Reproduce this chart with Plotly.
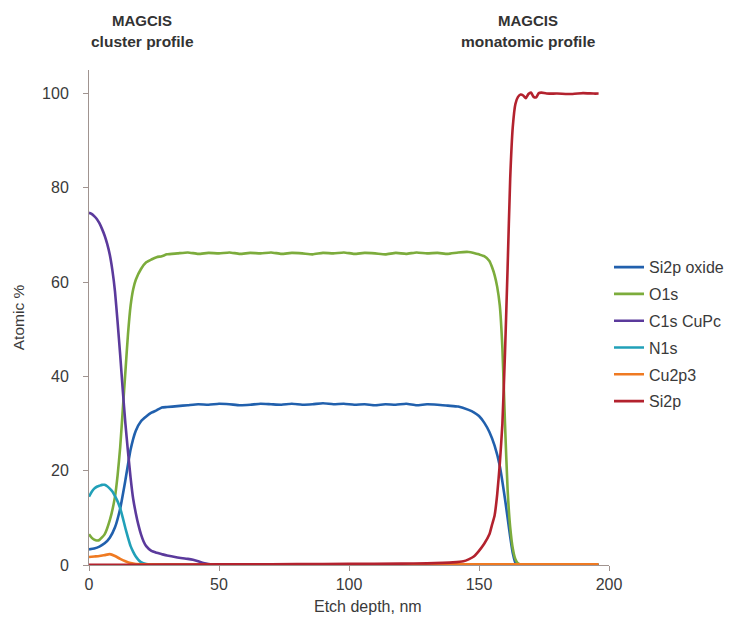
import plotly.graph_objects as go

# ---- data ----
sio2_x = [0, 2, 4, 6, 8, 10, 12, 14, 16, 18, 20, 22, 24, 26, 28,
          30, 34, 38, 42, 46, 50, 54, 58, 62, 66, 70, 74, 78, 82, 86, 90, 94, 98, 102, 106,
          110, 114, 118, 122, 126, 130, 134, 138, 142, 146, 148, 150, 152, 154, 156, 158,
          160, 161, 162, 163, 164, 166, 170, 180, 190, 196]
sio2_y = [3.3, 3.5, 3.9, 4.6, 5.8, 8.0, 12.0, 18.0, 24.5, 28.5, 30.5, 31.5, 32.3, 32.8, 33.4,
          33.5, 33.7, 33.9, 34.1, 34.0, 34.2, 34.1, 33.9, 34.0, 34.2, 34.1, 34.0, 34.2, 34.0, 34.1, 34.3, 34.1, 34.2, 34.0, 34.1,
          33.9, 34.1, 34.0, 34.2, 33.9, 34.1, 34.0, 33.8, 33.6, 32.9, 32.4, 31.6, 30.2, 28.2, 25.3, 21.0,
          14.0, 10.0, 6.0, 2.5, 0.5, 0.1, 0.0, 0.0, 0.0, 0.0]

o1s_x = [0, 1, 2, 3, 4, 6, 8, 10, 11, 12, 13, 14, 15, 16, 17, 18, 20, 22, 24, 26, 28,
         30, 34, 38, 42, 46, 50, 54, 58, 62, 66, 70, 74, 78, 82, 86, 90, 94, 98, 102, 106,
         110, 114, 118, 122, 126, 130, 134, 138, 142, 146, 148, 150, 152, 154, 155, 156, 157, 158,
         159, 160, 161, 162, 163, 164, 165, 166, 170, 180, 190, 196]
o1s_y = [6.5, 5.8, 5.4, 5.2, 5.3, 6.5, 9.5, 14.5, 19.0, 25.0, 33.0, 41.0, 49.0, 55.0, 58.5, 60.5, 62.8, 64.2, 64.8, 65.3, 65.5,
         65.9, 66.1, 66.3, 66.0, 66.2, 66.1, 66.3, 66.0, 66.2, 66.1, 66.3, 66.0, 66.2, 66.1, 65.9, 66.2, 66.1, 66.3, 66.0, 66.2,
         66.1, 65.9, 66.2, 66.0, 66.3, 66.1, 66.2, 66.0, 66.3, 66.4, 66.2, 65.9, 65.5, 64.5, 63.2, 61.5, 59.0, 55.0,
         46.0, 30.0, 16.0, 8.0, 3.5, 1.2, 0.3, 0.1, 0.0, 0.0, 0.0, 0.0]

c1s_x = [0, 1, 2, 3, 4, 5, 6, 7, 8, 9, 10, 11, 12, 13, 14, 15, 16, 17, 18, 19, 20, 21, 22,
         24, 26, 28, 30, 34, 38, 40, 42, 44, 46, 50, 80, 120, 160, 196]
c1s_y = [74.7, 74.5, 74.0, 73.4, 72.5, 71.3, 69.9, 68.1, 65.8, 62.5, 58.0, 51.5, 44.5, 37.0, 30.0, 24.0, 18.5, 14.0, 11.0, 8.5, 6.5, 5.0, 4.0,
         3.0, 2.6, 2.3, 2.0, 1.6, 1.3, 1.1, 0.8, 0.4, 0.2, 0.1, 0.05, 0.05, 0.0, 0.0]

n1s_x = [0, 1, 2, 3, 4, 5, 6, 7, 8, 9, 10, 11, 12, 13, 14, 15, 16, 17, 18, 19, 20, 22, 24, 40, 196]
n1s_y = [14.5, 15.5, 16.2, 16.6, 16.8, 17.0, 17.0, 16.7, 16.2, 15.6, 14.6, 13.5, 12.0, 10.0, 7.8, 5.8, 4.0, 2.8, 1.8, 1.1, 0.6, 0.2, 0.1, 0.0, 0.0]

cu_x = [0, 2, 4, 6, 8, 10, 12, 14, 16, 18, 20, 40, 80, 120, 160, 196]
cu_y = [1.7, 1.8, 1.9, 2.1, 2.3, 1.9, 1.3, 0.8, 0.4, 0.2, 0.15, 0.1, 0.1, 0.12, 0.15, 0.15]

si_x = [0, 20, 40, 60, 80, 100, 120, 130, 136, 140, 144, 146, 148, 150, 152, 154, 155, 156, 157, 158,
        159, 160, 161, 162, 163, 164, 165, 166, 167, 168, 169, 170, 171, 172, 173, 174, 176, 180, 186, 190, 194, 196]
si_y = [0.05, 0.05, 0.1, 0.15, 0.2, 0.25, 0.3, 0.35, 0.45, 0.55, 0.8, 1.2, 1.8, 3.0, 4.5, 6.5, 8.5, 10.5, 15.0, 21.5,
        30.0, 45.0, 63.0, 82.0, 93.0, 97.8, 99.3, 99.8, 99.6, 99.0, 99.9, 100.2, 99.3, 99.2, 100.1, 100.2, 100.0, 100.0, 99.9, 100.1, 100.0, 100.0]

names = ["Si2p oxide", "O1s", "C1s CuPc", "N1s", "Cu2p3", "Si2p"]
colors = ["#2160ad", "#7cac3c", "#5b3a9c", "#21a0b8", "#ef7a22", "#b3222e"]
xs = [sio2_x, o1s_x, c1s_x, n1s_x, cu_x, si_x]
ys = [sio2_y, o1s_y, c1s_y, n1s_y, cu_y, si_y]

fig = go.Figure()
for name, col, x, y in zip(names, colors, xs, ys):
    fig.add_trace(go.Scatter(x=x, y=y, mode="lines", name=name, legendgroup=name,
                             line=dict(color=col, width=2.6, shape="spline", smoothing=0.5)))

font_family = "Liberation Sans, Arial, sans-serif"
# page body has an 8px margin, so the figure is drawn 8px in from the top-left
fig.update_layout(
    width=733, height=611,
    margin=dict(l=81, r=128, t=62, b=54),
    paper_bgcolor="white", plot_bgcolor="white",
    font=dict(family=font_family, size=16, color="#3a3a3a"),
    showlegend=True,
    legend=dict(x=1.0, y=0.636, xanchor="left", yanchor="top",
                font=dict(size=16, color="#3a3a3a"),
                tracegroupgap=3, itemwidth=30, bgcolor="rgba(0,0,0,0)"),
    xaxis=dict(range=[0, 200], dtick=50, tick0=0, showgrid=False, zeroline=False,
               showline=True, linecolor="#a09490", linewidth=1, automargin=False,
               ticks="outside", ticklen=5, tickcolor="#a09490"),
    yaxis=dict(range=[0, 105], dtick=20, tick0=0, showgrid=False, zeroline=False,
               showline=True, linecolor="#a09490", linewidth=1, automargin=False,
               ticks="outside", ticklen=5, tickcolor="#a09490", ticklabelstandoff=11,
               title=dict(text="Atomic %", font=dict(size=15.5), standoff=13)),
)

fig.add_annotation(x=0.536, y=-0.083, xref="paper", yref="paper", showarrow=False,
                   text="Etch depth, nm", yanchor="middle",
                   font=dict(size=16, color="#3a3a3a", family=font_family))

for xv, lines in [(20.5, ["MAGCIS", "cluster profile"]), (169.0, ["MAGCIS", "monatomic profile"])]:
    fig.add_annotation(x=xv, y=1.101, xref="x", yref="paper", showarrow=False,
                       text="<b>%s</b>" % lines[0], yanchor="middle",
                       font=dict(size=15, color="#333333", family=font_family))
    fig.add_annotation(x=xv, y=1.057, xref="x", yref="paper", showarrow=False,
                       text="<b>%s</b>" % lines[1], yanchor="middle",
                       font=dict(size=15.5, color="#333333", family=font_family))

fig.write_html("out.html")
